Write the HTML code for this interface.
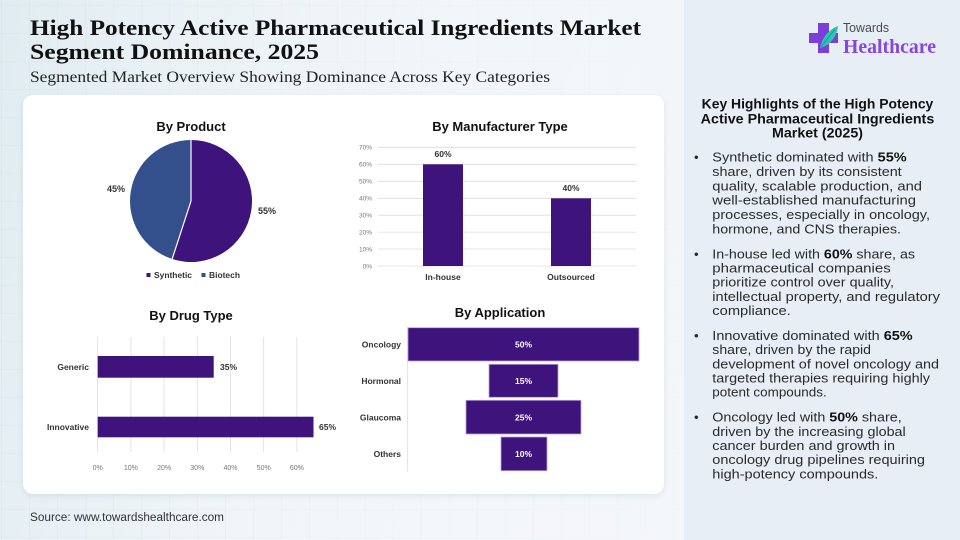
<!DOCTYPE html>
<html><head><meta charset="utf-8"><style>
html,body{margin:0;padding:0;width:960px;height:540px;overflow:hidden;background:#fff}
svg{display:block}
.sans{font-family:"Liberation Sans",sans-serif}
.serif{font-family:"Liberation Serif",serif}
</style></head><body>
<svg width="960" height="540" viewBox="0 0 960 540" xmlns="http://www.w3.org/2000/svg">
<defs>
<linearGradient id="bg" x1="0" y1="0" x2="1" y2="0.3">
<stop offset="0" stop-color="#e0ecf1"/><stop offset="0.6" stop-color="#edf3f8"/><stop offset="1" stop-color="#f3f6fa"/>
</linearGradient>
<pattern id="grid" width="28" height="28" patternUnits="userSpaceOnUse" x="2" y="6">
<path d="M28 0V28M0 28H28" fill="none" stroke="#c9d9e2" stroke-width="0.8" opacity="0.6"/>
</pattern>
<linearGradient id="fade" x1="0" y1="0" x2="1" y2="0">
<stop offset="0" stop-color="#fff" stop-opacity="0"/><stop offset="1" stop-color="#f3f6fa" stop-opacity="0.85"/>
</linearGradient>
<filter id="sh" x="-5%" y="-5%" width="110%" height="112%">
<feDropShadow dx="0" dy="2" stdDeviation="3" flood-color="#7a8fa0" flood-opacity="0.18"/>
</filter>
</defs>
<rect width="960" height="540" fill="url(#bg)"/>
<rect width="685" height="540" fill="url(#grid)"/>
<rect width="685" height="540" fill="url(#fade)"/>
<rect x="684" y="0" width="276" height="540" fill="#e8eef6"/>

<!-- Title -->
<text class="serif" x="30" y="35" font-size="22" font-weight="bold" fill="#111" textLength="611" lengthAdjust="spacingAndGlyphs">High Potency Active Pharmaceutical Ingredients Market</text>
<text class="serif" x="30" y="59" font-size="22" font-weight="bold" fill="#111" textLength="289" lengthAdjust="spacingAndGlyphs">Segment Dominance, 2025</text>
<text class="serif" x="30" y="82" font-size="16" fill="#222" textLength="520" lengthAdjust="spacingAndGlyphs">Segmented Market Overview Showing Dominance Across Key Categories</text>

<!-- Logo -->
<g>
<rect x="818" y="23" width="11" height="30" fill="#7a3fd8"/>
<rect x="809" y="33" width="29" height="10" fill="#7a3fd8"/>
<path d="M820 48 C822 38 828 30 838 26 C837 36 831 45 820 48Z" fill="#2cc4b4"/>
<path d="M821 47 L835 29" stroke="#1a8f86" stroke-width="0.8"/>
</g>
<text class="sans" x="843" y="32" font-size="12.5" fill="#4a4a4a" textLength="46" lengthAdjust="spacingAndGlyphs">Towards</text>
<text class="serif" x="843" y="53" font-size="20" font-weight="bold" fill="#8546e2" textLength="93" lengthAdjust="spacingAndGlyphs">Healthcare</text>

<!-- Card -->
<rect x="23" y="95" width="641" height="399" rx="10" fill="#fff" filter="url(#sh)"/>

<!-- By Product -->
<text class="sans" x="191" y="131" font-size="13" font-weight="bold" fill="#111" text-anchor="middle">By Product</text>
<g>
<path d="M191 201 L191 140 A61 61 0 1 1 172.15 259.01 Z" fill="#3e137c"/>
<path d="M191 201 L172.15 259.01 A61 61 0 0 1 191 140 Z" fill="#34508c"/>
<path d="M191 140 L191 201 L172.15 259.01" fill="none" stroke="#fff" stroke-width="1.2"/>
</g>
<text class="sans" x="116" y="192" font-size="9" font-weight="bold" fill="#333" text-anchor="middle">45%</text>
<text class="sans" x="267" y="214" font-size="9" font-weight="bold" fill="#333" text-anchor="middle">55%</text>
<rect x="146.5" y="273" width="4" height="4" fill="#3e137c"/>
<text class="sans" x="154" y="278" font-size="8.5" font-weight="bold" fill="#333" textLength="38" lengthAdjust="spacingAndGlyphs">Synthetic</text>
<rect x="201.5" y="273" width="4" height="4" fill="#34508c"/>
<text class="sans" x="209" y="278" font-size="8.5" font-weight="bold" fill="#333" textLength="31" lengthAdjust="spacingAndGlyphs">Biotech</text>

<!-- By Manufacturer Type -->
<text class="sans" x="500" y="131" font-size="13" font-weight="bold" fill="#111" text-anchor="middle">By Manufacturer Type</text>
<g stroke="#dcdcdc" stroke-width="0.8">
<line x1="378" y1="147.3" x2="636" y2="147.3"/>
<line x1="378" y1="164.3" x2="636" y2="164.3"/>
<line x1="378" y1="181.3" x2="636" y2="181.3"/>
<line x1="378" y1="198.3" x2="636" y2="198.3"/>
<line x1="378" y1="215.2" x2="636" y2="215.2"/>
<line x1="378" y1="232.1" x2="636" y2="232.1"/>
<line x1="378" y1="249" x2="636" y2="249"/>
<line x1="378" y1="266" x2="636" y2="266"/>
</g>
<g class="sans" font-size="6.5" fill="#777" text-anchor="end">
<text x="372" y="149.5">70%</text><text x="372" y="166.5">60%</text><text x="372" y="183.5">50%</text><text x="372" y="200.5">40%</text>
<text x="372" y="217.5">30%</text><text x="372" y="234.5">20%</text><text x="372" y="251.5">10%</text><text x="372" y="268.5">0%</text>
</g>
<rect x="423" y="164.3" width="40" height="101.7" fill="#3e137c"/>
<rect x="551" y="198.3" width="40" height="67.7" fill="#3e137c"/>
<text class="sans" x="443" y="157" font-size="8.5" font-weight="bold" fill="#333" text-anchor="middle">60%</text>
<text class="sans" x="571" y="191" font-size="8.5" font-weight="bold" fill="#333" text-anchor="middle">40%</text>
<text class="sans" x="443" y="280" font-size="8.5" font-weight="bold" fill="#333" text-anchor="middle">In-house</text>
<text class="sans" x="571" y="280" font-size="8.5" font-weight="bold" fill="#333" text-anchor="middle">Outsourced</text>

<!-- By Drug Type -->
<text class="sans" x="191" y="320" font-size="13" font-weight="bold" fill="#111" text-anchor="middle">By Drug Type</text>
<g stroke="#dcdcdc" stroke-width="0.8">
<line x1="97.7" y1="337" x2="97.7" y2="452"/><line x1="130.9" y1="337" x2="130.9" y2="452"/>
<line x1="164.1" y1="337" x2="164.1" y2="452"/><line x1="197.3" y1="337" x2="197.3" y2="452"/>
<line x1="230.5" y1="337" x2="230.5" y2="452"/><line x1="263.7" y1="337" x2="263.7" y2="452"/>
<line x1="296.9" y1="337" x2="296.9" y2="452"/>
</g>
<rect x="97.7" y="356" width="116" height="21.7" fill="#3e137c"/>
<rect x="97.7" y="416.7" width="215.8" height="20.6" fill="#3e137c"/>
<text class="sans" x="89" y="370" font-size="8.5" font-weight="bold" fill="#333" text-anchor="end">Generic</text>
<text class="sans" x="89" y="430" font-size="8.5" font-weight="bold" fill="#333" text-anchor="end">Innovative</text>
<text class="sans" x="220" y="370" font-size="8.5" font-weight="bold" fill="#333">35%</text>
<text class="sans" x="319" y="430" font-size="8.5" font-weight="bold" fill="#333">65%</text>
<g class="sans" font-size="7" fill="#777" text-anchor="middle">
<text x="97.7" y="470">0%</text><text x="130.9" y="470">10%</text><text x="164.1" y="470">20%</text><text x="197.3" y="470">30%</text>
<text x="230.5" y="470">40%</text><text x="263.7" y="470">50%</text><text x="296.9" y="470">60%</text>
</g>

<!-- By Application -->
<text class="sans" x="500" y="317" font-size="13" font-weight="bold" fill="#111" text-anchor="middle">By Application</text>
<line x1="407.7" y1="326.7" x2="407.7" y2="472" stroke="#d9d9d9" stroke-width="0.8"/>
<g fill="#3e137c" stroke="#b9a3d9" stroke-width="0.8">
<rect x="408" y="327.7" width="231" height="33.3"/>
<rect x="489" y="364.3" width="69" height="33"/>
<rect x="466" y="400.3" width="115" height="33.7"/>
<rect x="501" y="437" width="46" height="33.7"/>
</g>
<g class="sans" font-size="8.5" font-weight="bold" fill="#fff" text-anchor="middle">
<text x="523.5" y="347.5">50%</text><text x="523.5" y="384">15%</text><text x="523.5" y="420.3">25%</text><text x="523.5" y="457">10%</text>
</g>
<g class="sans" font-size="8.5" font-weight="bold" fill="#333" text-anchor="end">
<text x="401" y="347.5">Oncology</text><text x="401" y="384">Hormonal</text><text x="401" y="420.3">Glaucoma</text><text x="401" y="457">Others</text>
</g>

<!-- Source -->
<text class="sans" x="30" y="521" font-size="11.5" fill="#333" textLength="194" lengthAdjust="spacingAndGlyphs">Source: www.towardshealthcare.com</text>

<!-- Right panel -->
<g class="sans" font-size="13.5" font-weight="bold" fill="#111" text-anchor="middle">
<text x="817.5" y="108.3" textLength="231.6" lengthAdjust="spacingAndGlyphs">Key Highlights of the High Potency</text>
<text x="817.5" y="123.3" textLength="233.6" lengthAdjust="spacingAndGlyphs">Active Pharmaceutical Ingredients</text>
<text x="817.5" y="137.3" textLength="91" lengthAdjust="spacingAndGlyphs">Market (2025)</text>
</g>
<g class="sans" font-size="13.3" fill="#2a2a2a">
<text x="694" y="161.7">•</text>
<text x="712.3" y="161.7" textLength="194.4" lengthAdjust="spacingAndGlyphs">Synthetic dominated with <tspan font-weight="bold" fill="#111">55%</tspan></text>
<text x="712.3" y="176" textLength="189.4" lengthAdjust="spacingAndGlyphs">share, driven by its consistent</text>
<text x="712.3" y="190.5" textLength="209.7" lengthAdjust="spacingAndGlyphs">quality, scalable production, and</text>
<text x="712.3" y="204.6" textLength="203.7" lengthAdjust="spacingAndGlyphs">well-established manufacturing</text>
<text x="712.3" y="219.1" textLength="217.7" lengthAdjust="spacingAndGlyphs">processes, especially in oncology,</text>
<text x="712.3" y="233.3" textLength="188.7" lengthAdjust="spacingAndGlyphs">hormone, and CNS therapies.</text>

<text x="694" y="258.3">•</text>
<text x="712.3" y="258.3" textLength="202.7" lengthAdjust="spacingAndGlyphs">In-house led with <tspan font-weight="bold" fill="#111">60%</tspan> share, as</text>
<text x="712.3" y="272.4" textLength="178.4" lengthAdjust="spacingAndGlyphs">pharmaceutical companies</text>
<text x="712.3" y="286.7" textLength="181.7" lengthAdjust="spacingAndGlyphs">prioritize control over quality,</text>
<text x="712.3" y="301" textLength="227.7" lengthAdjust="spacingAndGlyphs">intellectual property, and regulatory</text>
<text x="712.3" y="315" textLength="78.4" lengthAdjust="spacingAndGlyphs">compliance.</text>

<text x="694" y="340">•</text>
<text x="712.3" y="340" textLength="200.4" lengthAdjust="spacingAndGlyphs">Innovative dominated with <tspan font-weight="bold" fill="#111">65%</tspan></text>
<text x="712.3" y="354.2" textLength="158.7" lengthAdjust="spacingAndGlyphs">share, driven by the rapid</text>
<text x="712.3" y="368.4" textLength="226.7" lengthAdjust="spacingAndGlyphs">development of novel oncology and</text>
<text x="712.3" y="382.6" textLength="217.7" lengthAdjust="spacingAndGlyphs">targeted therapies requiring highly</text>
<text x="712.3" y="396.7" textLength="114.4" lengthAdjust="spacingAndGlyphs">potent compounds.</text>

<text x="694" y="421.7">•</text>
<text x="712.3" y="421.7" textLength="189.4" lengthAdjust="spacingAndGlyphs">Oncology led with <tspan font-weight="bold" fill="#111">50%</tspan> share,</text>
<text x="712.3" y="435.9" textLength="193.4" lengthAdjust="spacingAndGlyphs">driven by the increasing global</text>
<text x="712.3" y="450" textLength="182.7" lengthAdjust="spacingAndGlyphs">cancer burden and growth in</text>
<text x="712.3" y="464.1" textLength="212.7" lengthAdjust="spacingAndGlyphs">oncology drug pipelines requiring</text>
<text x="712.3" y="478.3" textLength="166" lengthAdjust="spacingAndGlyphs">high-potency compounds.</text>
</g>
</svg>
</body></html>
